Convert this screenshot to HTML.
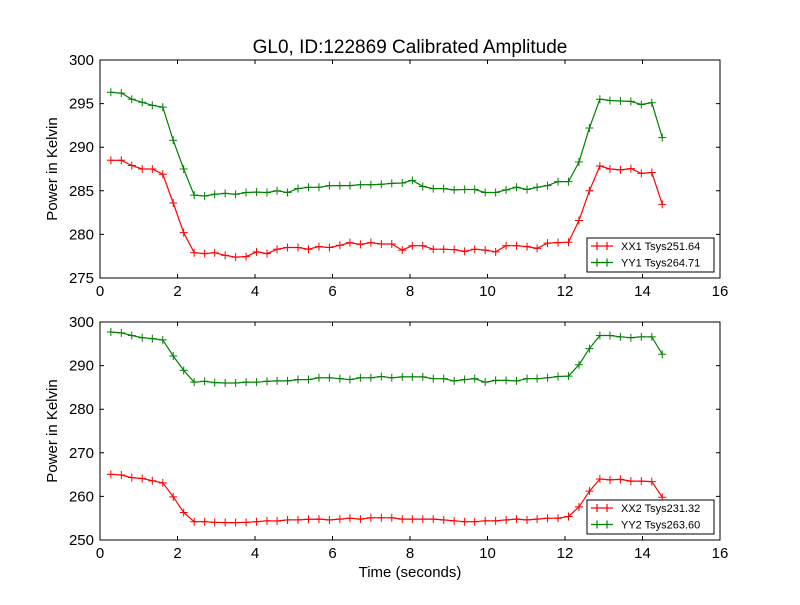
<!DOCTYPE html>
<html><head><meta charset="utf-8"><style>
body{margin:0;background:#fff;width:800px;height:600px;overflow:hidden}
svg{font-family:"Liberation Sans","DejaVu Sans",sans-serif}
</style></head><body>
<svg id="chart" width="800" height="600" xmlns="http://www.w3.org/2000/svg">
<rect width="800" height="600" fill="#fff"/>
<text x="410" y="53" text-anchor="middle" font-size="19">GL0, ID:122869 Calibrated Amplitude</text>
<text x="410" y="577" text-anchor="middle" font-size="15">Time (seconds)</text>
</svg>
<script>
const times = [0.28,0.55,0.82,1.09,1.35,1.62,1.89,2.16,2.43,2.70,2.96,3.23,3.50,3.77,4.04,4.31,4.57,4.84,5.11,5.38,5.65,5.92,6.19,6.45,6.72,6.99,7.26,7.53,7.80,8.06,8.33,8.60,8.87,9.14,9.41,9.67,9.94,10.21,10.48,10.75,11.02,11.28,11.55,11.82,12.09,12.36,12.63,12.90,13.16,13.43,13.70,13.97,14.24,14.51];
const xx1 = [288.5,288.5,287.9,287.5,287.5,286.9,283.6,280.2,277.9,277.8,277.9,277.6,277.4,277.45,278.0,277.8,278.3,278.5,278.5,278.3,278.6,278.5,278.75,279.05,278.85,279.05,278.9,278.9,278.2,278.7,278.7,278.3,278.3,278.25,278.05,278.3,278.2,278.0,278.7,278.7,278.6,278.4,279.0,279.05,279.1,281.6,285.0,287.85,287.5,287.4,287.55,287.0,287.1,283.45];
const yy1 = [296.3,296.2,295.5,295.15,294.8,294.6,290.8,287.5,284.5,284.4,284.6,284.7,284.6,284.8,284.85,284.8,285.0,284.8,285.25,285.4,285.4,285.6,285.6,285.6,285.7,285.7,285.75,285.85,285.9,286.2,285.5,285.25,285.25,285.1,285.15,285.15,284.8,284.8,285.1,285.4,285.15,285.4,285.6,286.05,286.05,288.3,292.2,295.5,295.35,295.3,295.25,294.9,295.1,291.1];
const xx2 = [265.06,264.9,264.3,264.1,263.6,263.1,259.9,256.3,254.2,254.2,254.05,254.0,254.0,254.05,254.2,254.4,254.35,254.6,254.6,254.75,254.8,254.6,254.8,255.0,254.8,255.1,255.1,255.1,254.8,254.8,254.8,254.8,254.6,254.4,254.2,254.2,254.4,254.4,254.6,254.8,254.6,254.8,255.0,255.0,255.4,257.6,261.2,264.0,263.8,263.9,263.5,263.5,263.4,259.8];
const yy2 = [297.7,297.5,296.9,296.4,296.2,295.9,292.2,288.9,286.2,286.4,286.1,286.0,286.0,286.2,286.2,286.4,286.5,286.5,286.8,286.8,287.2,287.2,287.0,286.8,287.2,287.2,287.5,287.2,287.4,287.4,287.4,287.0,287.0,286.5,286.8,287.0,286.2,286.6,286.6,286.5,287.0,287.0,287.2,287.5,287.6,290.2,293.9,296.9,296.9,296.6,296.4,296.6,296.6,292.6];
const xTicks = [0,2,4,6,8,10,12,14,16];
const yTicksTop = [275,280,285,290,295,300];
const yTicksBot = [250,260,270,280,290,300];
const legendTop = ["XX1 Tsys251.64","YY1 Tsys264.71"];
const legendBot = ["XX2 Tsys231.32","YY2 Tsys263.60"];

const NS="http://www.w3.org/2000/svg";
const svg=document.getElementById('chart');
function mk(tag,attrs,parent){const e=document.createElementNS(NS,tag);for(const k in attrs)e.setAttribute(k,attrs[k]);(parent||svg).appendChild(e);return e;}

function panel(top,bottom,ymin,ymax,yTicks,series,labels,legY,id){
  const L=100,R=720;
  const g=mk('g',{});
  
  
  const xs=v=>L+(v-0)/(16-0)*(R-L);
  const ys=v=>bottom-(v-ymin)/(ymax-ymin)*(bottom-top);
  const pl=mk('g',{},g);
  
  
  series.forEach((s,si)=>{
    const pts=times.map((t,i)=>xs(t).toFixed(1)+','+ys(s.vals[i]).toFixed(1)).join(' ');
    const line=mk('polyline',{points:pts,fill:'none',stroke:s.color,'stroke-width':1.2},pl);
    
    
    times.forEach((t,i)=>{
      const x=xs(t),y=ys(s.vals[i]);
      const m=mk('path',{d:`M${x-4},${y}H${x+4}M${x},${y-4}V${y+4}`,stroke:s.color,'stroke-width':1},pl);
      
      
    });
  });
  const frame=mk('rect',{x:L,y:top,width:R-L,height:bottom-top,fill:'none',stroke:'#000','stroke-width':1},g);
  
  
  xTicks.forEach(v=>{
    const x=xs(v);
    mk('path',{d:`M${x},${bottom}v-4M${x},${top}v4`,stroke:'#000'},g);
    const t=mk('text',{x:x,y:bottom+18,'text-anchor':'middle','font-size':15},g);
    t.textContent=v;
    
    
  });
  yTicks.forEach(v=>{
    const y=ys(v);
    mk('path',{d:`M${L},${y}h4M${R},${y}h-4`,stroke:'#000'},g);
    const t=mk('text',{x:L-6,y:y+5,'text-anchor':'end','font-size':15},g);
    t.textContent=v;
    
    
  });
  const yt=mk('text',{x:0,y:0,'text-anchor':'middle','font-size':15,transform:`translate(57,${(top+bottom)/2}) rotate(-90)`},g);
  yt.textContent='Power in Kelvin';
  
  
  const lg=mk('g',{},g);
  
  
  mk('rect',{x:587,y:legY,width:127,height:34,fill:'#fff',stroke:'#000','stroke-width':1},lg);
  series.forEach((s,i)=>{
    const y=legY+8+i*16.5;
    const e=mk('g',{},lg);
    
    
    mk('path',{d:`M591,${y}H613M597,${y-4}v8M607,${y-4}v8`,stroke:s.color,'stroke-width':1.2},e);
    const t=mk('text',{x:621,y:y+4,'font-size':11},e);
    t.textContent=labels[i];
  });
}
panel(60,278,275,300,yTicksTop,[{name:'xx1',vals:xx1,color:'#ff0000'},{name:'yy1',vals:yy1,color:'#008000'}],legendTop,238,'top');
panel(322,540,250,300,yTicksBot,[{name:'xx2',vals:xx2,color:'#ff0000'},{name:'yy2',vals:yy2,color:'#008000'}],legendBot,500,'bottom');
</script>
</body></html>
